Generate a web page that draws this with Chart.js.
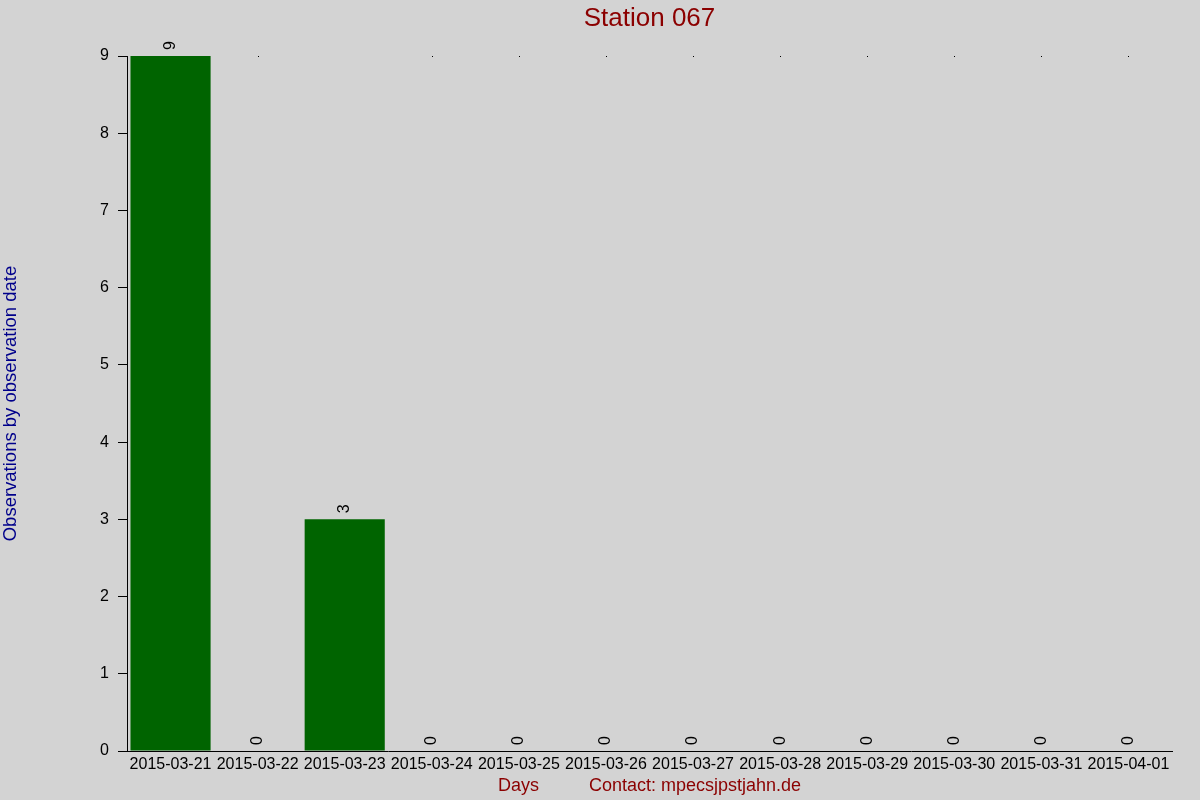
<!DOCTYPE html>
<html>
<head>
<meta charset="utf-8">
<title>Station 067</title>
<script src="https://cdn.jsdelivr.net/npm/chart.js@4/dist/chart.umd.min.js"></script>
<style>
	body { margin: 0; background: #d3d3d3; }
	canvas { display: block; }
</style>
</head>
<body>
<canvas id="chart1" width="1200" height="800"></canvas>
<script>
const days = [
	'2015-03-21', '2015-03-22', '2015-03-23', '2015-03-24', '2015-03-25', '2015-03-26',
	'2015-03-27', '2015-03-28', '2015-03-29', '2015-03-30', '2015-03-31', '2015-04-01'
];
const observations = [9, 0, 3, 0, 0, 0, 0, 0, 0, 0, 0, 0];
const yTicks = [0, 1, 2, 3, 4, 5, 6, 7, 8, 9];

const FONT = "'Liberation Sans', Arial, sans-serif";

// value labels, rotated, sitting on top of every bar
const barLabels = {
	id: 'barLabels',
	afterDatasetsDraw(chart) {
		const ctx = chart.ctx;
		const meta = chart.getDatasetMeta(0);
		const y = chart.scales.y;
		ctx.save();
		ctx.font = `16px ${FONT}`;
		ctx.fillStyle = '#000';
		ctx.textAlign = 'left';
		ctx.textBaseline = 'middle';
		meta.data.forEach((bar, i) => {
			ctx.save();
			ctx.translate(bar.x, bar.y - 6);
			ctx.rotate(-Math.PI / 2);
			ctx.fillText(String(observations[i]), 0, 0);
			ctx.restore();
			// little dot left at the top for empty days
			if (observations[i] === 0) {
				ctx.fillRect(Math.round(bar.x), y.getPixelForValue(y.max), 1, 1);
			}
		});
		ctx.restore();
	}
};

new Chart(document.getElementById('chart1'), {
	type: 'bar',
	data: {
		labels: days,
		datasets: [
			{
				label: 'Observations',
				data: observations,
				backgroundColor: '#006400',
				borderWidth: 0,
				categoryPercentage: 0.92,
				barPercentage: 1
			}
		]
	},
	options: {
		responsive: false,
		animation: false,
		devicePixelRatio: 1,
		layout: {
			padding: { left: 0, right: 28, top: 0, bottom: 0 }
		},
		plugins: {
			legend: { display: false },
			tooltip: { enabled: false },
			title: {
				display: true,
				fullSize: false,
				text: 'Station 067',
				color: '#8b0000',
				font: { family: FONT, size: 26, weight: 'normal', lineHeight: 1.2 },
				padding: { top: 3, bottom: 21.8 }
			}
		},
		scales: {
			x: {
				grid: { display: false, drawTicks: false },
				border: { display: true, color: '#000', width: 1 },
				ticks: {
					color: '#000',
					font: { family: FONT, size: 16 },
					maxRotation: 0,
					autoSkip: false,
					padding: 4
				},
				title: {
					display: true,
					text: 'Days          Contact: mpecsjpstjahn.de',
					color: '#8b0000',
					font: { family: FONT, size: 18, lineHeight: 1.2 },
					padding: { top: 0, bottom: 3 }
				},
				afterFit(scale) {
					scale.height = 49;
				}
			},
			y: {
				min: 0,
				max: 9,
				grid: {
					drawOnChartArea: false,
					drawTicks: true,
					tickLength: 9,
					color: '#000'
				},
				border: { display: true, color: '#000', width: 1 },
				ticks: {
					stepSize: 1,
					color: '#000',
					font: { family: FONT, size: 16 },
					padding: 9,
					callback: (v) => (yTicks.includes(v) ? v : '')
				},
				title: {
					display: true,
					text: 'Observations by observation date',
					color: '#00008b',
					font: { family: FONT, size: 18.5, lineHeight: 1.2 },
					padding: { top: 0, bottom: 0 }
				},
				afterFit(scale) {
					scale.width = 127;
				}
			}
		}
	},
	plugins: [
		barLabels,
		{
			id: 'bg',
			beforeDraw(chart) {
				const ctx = chart.ctx;
				ctx.save();
				ctx.fillStyle = '#d3d3d3';
				ctx.fillRect(0, 0, chart.width, chart.height);
				ctx.restore();
			}
		}
	]
});
</script>
</body>
</html>
